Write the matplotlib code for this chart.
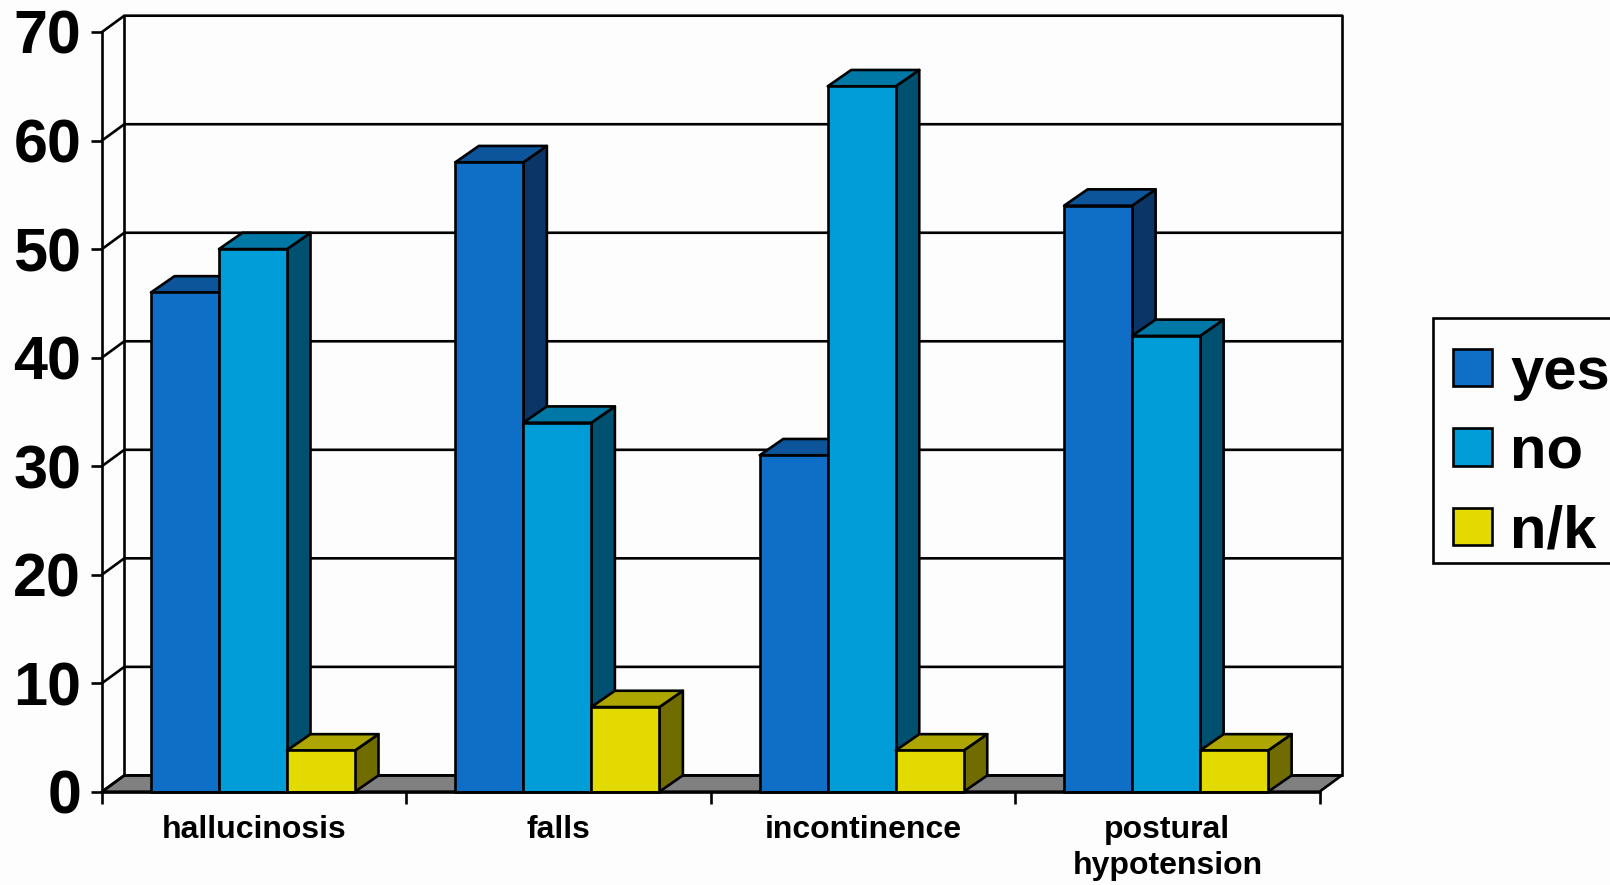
import matplotlib
matplotlib.use('Agg')
import matplotlib.pyplot as plt
from matplotlib.patches import Rectangle

categories = ['hallucinosis', 'falls', 'incontinence', 'postural\nhypotension']
series_names = ['yes', 'no', 'n/k']
yes_values = [46, 58, 31, 54]
no_values = [50, 34, 65, 42]
nk_values = [3.8, 7.8, 3.8, 3.8]
y_ticks = [0, 10, 20, 30, 40, 50, 60, 70]

front_colors = ['#0F6FC6', '#009DD9', '#E2DA00']
top_colors = ['#0C559B', '#0078A6', '#ADA600']
side_colors = ['#0A3566', '#00506F', '#716C00']

W, H = 1610, 885
LEFT, RIGHT = 102, 1319.5
BOTTOM, TOP = 791.7, 32

plt.rcParams['font.family'] = ['Liberation Sans', 'DejaVu Sans']
plt.rcParams['font.weight'] = 'bold'

fig = plt.figure(figsize=(W / 100, H / 100), dpi=100, facecolor='#FDFDFD')
ax = fig.add_axes([LEFT / W, 1 - BOTTOM / H, (RIGHT - LEFT) / W, (BOTTOM - TOP) / H])
ax.set_xlim(0, 4)
ax.set_ylim(0, 70)
ax.patch.set_alpha(0)

# 3d look: depth expressed in data units
dx = 22.3 / ((RIGHT - LEFT) / 4)
dy = 16.3 / ((BOTTOM - TOP) / 70)
bar_dx = 23.5 / ((RIGHT - LEFT) / 4)
bar_w = 68 / ((RIGHT - LEFT) / 4)
start = 49 / ((RIGHT - LEFT) / 4)
lw = 1.9

# floor
ax.fill([0, 4, 4 + dx, dx], [0, 0, dy, dy], facecolor='#808080', edgecolor='black',
        lw=lw, clip_on=False, zorder=1)

# walls and gridlines
for v in y_ticks:
    ax.plot([0, dx, 4 + dx], [v, v + dy, v + dy], color='black', lw=lw, clip_on=False,
            zorder=1.5, solid_joinstyle='miter')
ax.plot([dx, dx], [dy, 70 + dy], color='black', lw=lw, clip_on=False, zorder=1.5)
ax.plot([4 + dx, 4 + dx], [dy, 70 + dy], color='black', lw=lw, clip_on=False, zorder=1.5)

# bars, left to right so that nearer faces cover the ones behind
z = 2
for g in range(len(categories)):
    for s, values in enumerate([yes_values, no_values, nk_values]):
        x0 = g + start + s * bar_w
        x1 = x0 + bar_w
        v = values[g]
        ax.fill([x1, x1 + bar_dx, x1 + bar_dx, x1], [0, dy, v + dy, v], facecolor=side_colors[s],
                edgecolor='black', lw=lw, clip_on=False, zorder=z, joinstyle='round')
        ax.fill([x0, x1, x1 + bar_dx, x0 + bar_dx], [v, v, v + dy, v + dy], facecolor=top_colors[s],
                edgecolor='black', lw=lw, clip_on=False, zorder=z, joinstyle='round')
        ax.bar(x0, v, width=bar_w, align='edge', color=front_colors[s],
               edgecolor='black', lw=lw, clip_on=False, zorder=z + 0.5,
               label=series_names[s] if g == 0 else None)
        z += 1

for name in ['top', 'right']:
    ax.spines[name].set_visible(False)
for name in ['left', 'bottom']:
    ax.spines[name].set_linewidth(lw)
    ax.spines[name].set_zorder(50)

ax.set_yticks(y_ticks)
ax.tick_params(axis='y', which='major', length=8, width=lw, labelsize=44, pad=7)
ax.set_xticks(range(5))
ax.set_xticklabels([])
ax.tick_params(axis='x', which='major', length=8.5, width=lw)
ax.set_xticks([i + 0.5 for i in range(4)], minor=True)
ax.set_xticklabels(categories, minor=True, fontsize=23, linespacing=1.26)
ax.tick_params(axis='x', which='minor', length=0, pad=17)

# legend frame is separate because the box runs off the right edge
fig.add_artist(Rectangle((1433 / W, 1 - 562.5 / H), 200 / W, 244.5 / H, transform=fig.transFigure,
                         facecolor='#FDFDFD', edgecolor='black', lw=lw, zorder=3))
leg = fig.legend(loc='upper left', bbox_to_anchor=(1433 / W, 1 - 326 / H), borderaxespad=0,
                 fontsize=43, frameon=False, handlelength=0.65, handleheight=0.59,
                 handletextpad=0.31, labelspacing=0.41, borderpad=0.33)
leg.set_zorder(4)

fig.savefig('out.png', dpi=100, facecolor=fig.get_facecolor())
